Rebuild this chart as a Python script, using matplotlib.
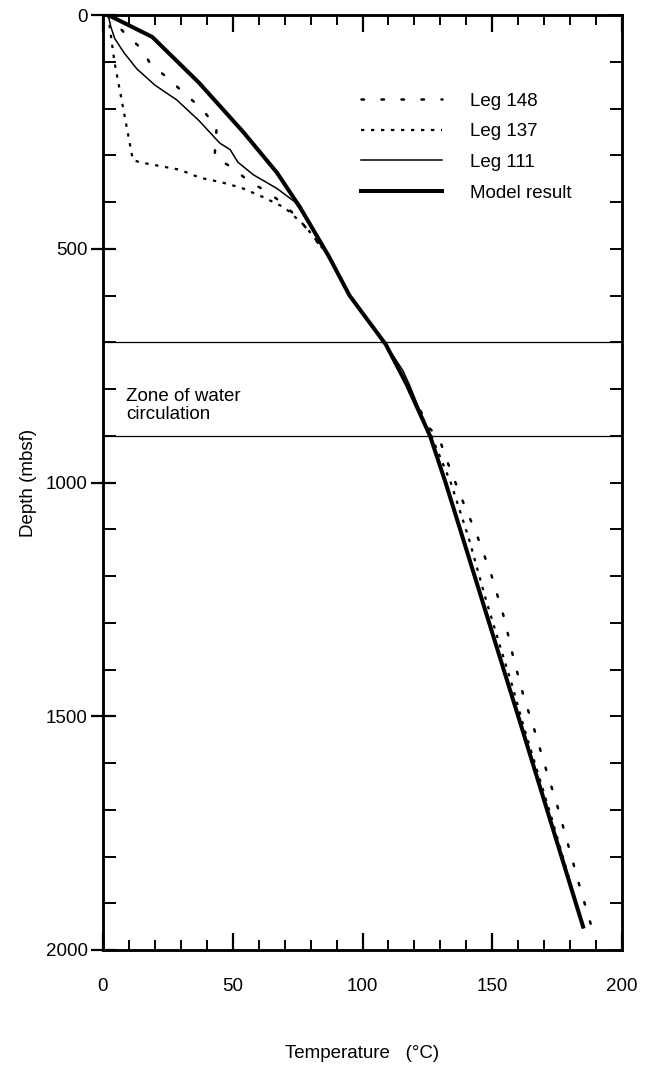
import matplotlib
matplotlib.use("Agg")
import matplotlib.pyplot as plt
from matplotlib.ticker import MultipleLocator

plt.rcParams['font.family'] = ['Liberation Sans', 'DejaVu Sans']

# ---- data (temperature in °C, depth in mbsf) ----
model_T = [2, 19, 37, 54, 67, 76, 87, 95, 109, 117, 126, 132, 160, 185]
model_D = [0, 47, 145, 250, 337, 412, 516, 600, 705, 790, 900, 1000, 1500, 1950]

leg111_T = [2, 3, 4.5, 8, 13, 20, 28.5, 37, 45, 49, 52, 58, 67, 74, 80, 87, 95, 109, 115.5, 118, 126, 132]
leg111_D = [0, 25, 50, 80, 115, 150, 182, 226, 274, 288, 315, 342, 371, 400, 450, 516, 600, 705, 760, 790, 900, 1000]

leg137_T = [2, 4.4, 7.8, 11.5, 14.2, 21.9, 29.6, 37.3, 45.8, 53.5, 61.5, 70, 75, 78, 87, 95, 109, 117,
            126.5, 134, 141, 147, 153, 158, 162, 173, 185]
leg137_D = [0, 100, 200, 310, 315, 323, 331, 348, 358, 370, 389, 412, 437, 452, 516, 600, 705, 790,
            900, 1000, 1120, 1240, 1350, 1440, 1520, 1720, 1950]

leg148_T = [2, 7.7, 14.2, 18.5, 25, 30.8, 38, 43.8, 43, 50, 55.8, 63.5, 70, 76, 87, 95, 109, 117,
            126, 129.5, 133, 138.2, 144.4, 149.8, 154.6, 158.2, 162.7, 165.3, 170.1, 174.9, 179.4,
            183.9, 188.4]
leg148_D = [0, 35, 69, 106, 135, 165, 200, 240, 304, 327, 354, 379, 406, 440, 516, 600, 705, 790,
            885, 905, 960, 1034, 1117, 1200, 1290, 1376, 1470, 1511, 1602, 1688, 1778, 1868, 1953]

zone_depths = [700, 900]
zone_label = "Zone of water\ncirculation"

series_labels = ["Leg 148", "Leg 137", "Leg 111", "Model result"]

FS = 13.5

# ---- figure ----
fig = plt.figure(figsize=(6.46, 10.70), dpi=100)
ax = fig.add_axes([103/646, 1 - 950/1070, 519/646, 935/1070])

for d in zone_depths:
    ax.axhline(d, color='black', lw=0.9)

l148, = ax.plot(leg148_T, leg148_D, color='black', lw=1.8, linestyle=(0, (1, 7)),
                dash_capstyle='round', label=series_labels[0])
l137, = ax.plot(leg137_T, leg137_D, color='black', lw=1.6, linestyle=(0, (1.5, 3)),
                label=series_labels[1])
l111, = ax.plot(leg111_T, leg111_D, color='black', lw=1.1, label=series_labels[2])
lmod, = ax.plot(model_T, model_D, color='black', lw=2.9, label=series_labels[3])

ax.set_xlim(0, 200)
ax.set_ylim(2000, 0)

ax.xaxis.set_major_locator(MultipleLocator(50))
ax.xaxis.set_minor_locator(MultipleLocator(10))
ax.yaxis.set_major_locator(MultipleLocator(500))
ax.yaxis.set_minor_locator(MultipleLocator(100))

ax.tick_params(axis='x', which='major', direction='in', length=12, width=1.6,
               top=True, labelsize=FS, pad=20)
ax.tick_params(axis='x', which='minor', direction='in', length=7, width=1.4, top=True)
ax.tick_params(axis='y', which='major', direction='inout', length=18, width=1.6,
               labelsize=FS, pad=2)
ax.tick_params(axis='y', which='minor', direction='in', length=9, width=1.4)

# right-hand ticks every 100 m
ax2 = ax.twinx()
ax2.set_ylim(2000, 0)
ax2.yaxis.set_major_locator(MultipleLocator(100))
ax2.tick_params(axis='y', direction='in', length=9, width=1.4, labelright=False)
for a in (ax, ax2):
    for s in a.spines.values():
        s.set_linewidth(1.8)

ax.set_xlabel("Temperature   (°C)", fontsize=FS, labelpad=36)
ax.set_ylabel("Depth (mbsf)", fontsize=FS, labelpad=6)

ax.text(9, 835, zone_label, fontsize=FS, va='center', ha='left', linespacing=1.05)

ax.legend(handles=[l148, l137, l111, lmod], loc='upper left',
          bbox_to_anchor=(0.497, 0.917), frameon=False, fontsize=FS,
          handlelength=4.3, handletextpad=1.5, labelspacing=0.72,
          borderpad=0, borderaxespad=0)

fig.savefig("out.png", dpi=100)
